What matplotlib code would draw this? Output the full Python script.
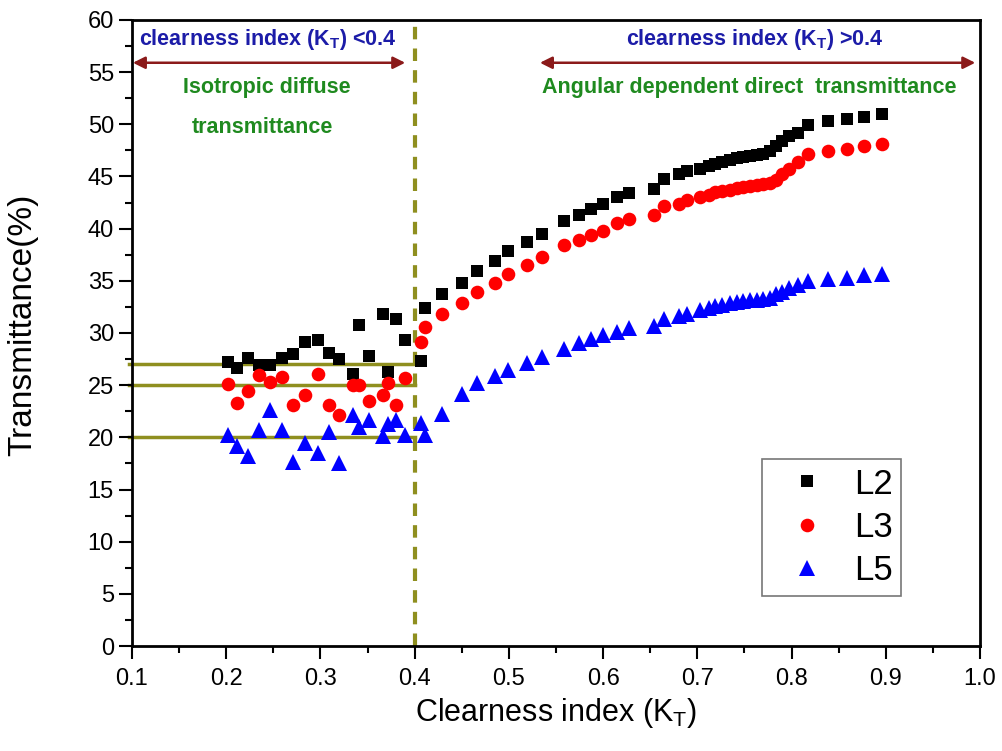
import matplotlib
matplotlib.use("Agg")
import matplotlib.pyplot as plt
from matplotlib.ticker import MultipleLocator

plt.rcParams["font.family"] = ["Liberation Sans", "DejaVu Sans"]

# clearness index values (shared by the three series)
kt = [0.2016, 0.2118, 0.2235, 0.235, 0.2465, 0.259, 0.2706, 0.2837, 0.2978, 0.3088,
      0.3197, 0.3343, 0.3413, 0.3516, 0.3668, 0.372, 0.380, 0.3898, 0.4065, 0.411,
      0.4288, 0.4507, 0.466, 0.4854, 0.4995, 0.519, 0.535, 0.559, 0.5745, 0.587,
      0.5997, 0.6145, 0.627, 0.654, 0.665, 0.681, 0.689, 0.703, 0.712, 0.719,
      0.726, 0.735, 0.742, 0.749, 0.756, 0.763, 0.770, 0.777, 0.784, 0.790,
      0.797, 0.807, 0.817, 0.839, 0.859, 0.877, 0.896]

l2 = [27.2, 26.6, 27.6, 26.9, 26.9, 27.6, 28.0, 29.1, 29.3, 28.1,
      27.5, 26.1, 30.8, 27.8, 31.8, 26.3, 31.3, 29.3, 27.3, 32.4,
      33.7, 34.8, 35.9, 36.9, 37.9, 38.7, 39.5, 40.7, 41.3, 41.9,
      42.4, 43.0, 43.4, 43.8, 44.8, 45.2, 45.5, 45.7, 46.0, 46.2,
      46.4, 46.6, 46.8, 46.9, 47.0, 47.1, 47.2, 47.4, 47.9, 48.4,
      48.9, 49.2, 49.9, 50.3, 50.5, 50.7, 51.0]

l3 = [25.1, 23.3, 24.4, 26.0, 25.3, 25.8, 23.1, 24.1, 26.1, 23.1,
      22.1, 25.0, 25.0, 23.5, 24.1, 25.2, 23.1, 25.7, 29.1, 30.6,
      31.8, 32.9, 33.9, 34.8, 35.7, 36.5, 37.3, 38.4, 38.9, 39.4,
      39.8, 40.5, 40.9, 41.3, 42.2, 42.4, 42.7, 43.0, 43.2, 43.5,
      43.6, 43.7, 43.9, 44.0, 44.1, 44.2, 44.3, 44.4, 44.7, 45.2,
      45.7, 46.4, 47.2, 47.4, 47.6, 47.9, 48.1]

l5 = [20.2, 19.2, 18.2, 20.7, 22.6, 20.7, 17.6, 19.5, 18.5, 20.5,
      17.5, 22.1, 21.0, 21.7, 20.1, 21.3, 21.7, 20.2, 21.4, 20.2,
      22.2, 24.2, 25.2, 25.9, 26.5, 27.1, 27.7, 28.5, 29.0, 29.4,
      29.8, 30.1, 30.5, 30.7, 31.3, 31.6, 31.8, 32.2, 32.4, 32.6,
      32.7, 32.9, 33.0, 33.1, 33.2, 33.2, 33.3, 33.4, 33.7, 33.9,
      34.3, 34.6, 35.0, 35.2, 35.3, 35.6, 35.7]

# average levels below KT = 0.4
ref_levels = [27, 25, 20]
kt_split = 0.4

OLIVE = "#8f8f1f"
BLUE = "#1c1ca8"
GREEN = "#1f8a1f"
RED = "#8b1a1a"

fig = plt.figure(figsize=(10.02, 7.51), dpi=100)
ax = fig.add_axes([0.1317, 0.1398, 0.8463, 0.8336])

ax.plot(kt, l2, "s", color="black", ms=8.8, mew=0, label="L2")
ax.plot(kt, l3, "o", color="red", ms=9.8, mew=0, label="L3")
ax.plot(kt, l5, "^", color="blue", ms=11, mew=0, label="L5")

for lev in ref_levels:
    ax.plot([0.097, kt_split], [lev, lev], color=OLIVE, lw=2.5, clip_on=False, zorder=1)
ax.axvline(kt_split, color=OLIVE, lw=3, ls=(0, (3, 2.2)), zorder=1)

# region annotations
txt = dict(weight="bold", fontsize=15.5, ha="center", va="center")
ax.text(0.244, 58.1, r"clearness index (K$\mathregular{_T}$) <0.4", color=BLUE, **txt)
ax.text(0.761, 58.1, r"clearness index (K$\mathregular{_T}$) >0.4", color=BLUE, **txt)
arrow = dict(arrowstyle="<|-|>", color=RED, lw=1.8, mutation_scale=18, shrinkA=0, shrinkB=0)
ax.annotate("", xy=(0.101, 55.9), xytext=(0.39, 55.9), arrowprops=arrow)
ax.annotate("", xy=(0.533, 55.9), xytext=(0.995, 55.9), arrowprops=arrow)
ax.text(0.243, 53.5, "Isotropic diffuse", color=GREEN, **txt)
ax.text(0.239, 49.7, "transmittance", color=GREEN, **txt)
ax.text(0.755, 53.5, "Angular dependent direct  transmittance", color=GREEN, **txt)

ax.set_xlim(0.1, 1.0)
ax.set_ylim(0, 60)
ax.xaxis.set_minor_locator(MultipleLocator(0.05))
ax.yaxis.set_major_locator(MultipleLocator(5))
ax.yaxis.set_minor_locator(MultipleLocator(2.5))
ax.set_xticks([0.1 * i for i in range(1, 11)])
ax.set_xticklabels([f"{0.1 * i:.1f}" for i in range(1, 11)], fontsize=17)
for lab in ax.get_yticklabels():
    lab.set_fontsize(17)
ax.tick_params(which="both", direction="out", width=1.5, top=False, right=False)
ax.tick_params(which="major", length=9.5)
ax.tick_params(which="minor", length=5)
ax.tick_params(axis="x", pad=6)
for sp in ax.spines.values():
    sp.set_linewidth(2)

ax.set_xlabel(r"Clearness index (K$\mathregular{_T}$)", fontsize=22, labelpad=5)
ax.set_ylabel("Transmittance(%)", fontsize=24)
ax.yaxis.set_label_coords(-0.111, 0.513)

leg = ax.legend(loc="upper left", bbox_to_anchor=(0.743, 0.299), borderaxespad=0,
                fontsize=25, markerscale=1.0, fancybox=False, edgecolor="#555555",
                handletextpad=0.3, borderpad=0.25, labelspacing=0.3, handlelength=2.1)
leg.get_frame().set_linewidth(1.2)

fig.savefig("out.png", dpi=100)
